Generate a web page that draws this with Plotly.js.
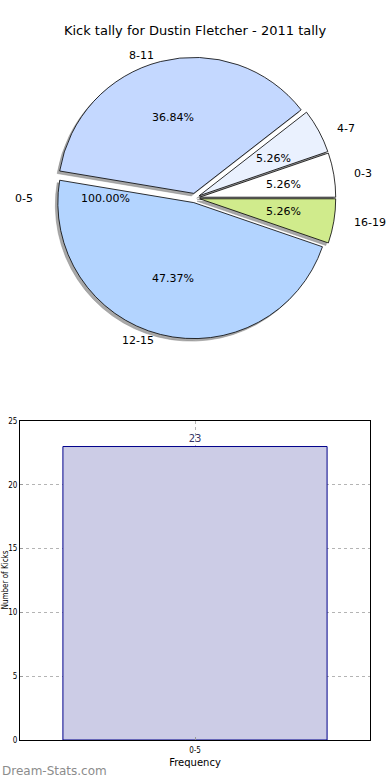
<!DOCTYPE html>
<html>
<head>
<meta charset="utf-8">
<script src="https://cdn.plot.ly/plotly-3.0.1.min.js"></script>
<style>html,body{margin:0;padding:0;background:#fff;overflow:hidden}#chart{width:390px;height:780px}</style>
</head>
<body>
<div id="chart"></div>
<script>
// ---- data ----
const chartTitle = "Kick tally for Dustin Fletcher - 2011 tally";
const pieLabels = ["0-3", "4-7", "8-11", "12-15", "16-19"];
const pieValues = [1, 1, 7, 9, 1];
const pieColors = ["#ffffff", "#eaf1fe", "#c4d8ff", "#b3d4ff", "#d0eb8c"];
const extraLabels = ["0-5"];
const extraValues = [23];
const barCategories = ["0-5"];
const barValues = [23];
const yTicks = [0, 5, 10, 15, 20, 25];
const xAxisTitle = "Frequency";
const yAxisTitle = "Number of Kicks";
const watermark = "Dream-Stats.com";

// ---- layout geometry ----
const W = 390, H = 780;
const cx = 195, cy = 198;     // pie centre (px)
const R = 136;                // drawn pie radius (px)
const RX = 140, RY = 129;     // text placement radii (px)
const pull = 0.035;
const half = R * (1 + pull);
const px = x => x / W;
const py = y => 1 - y / H;
const pieDomain = {x: [px(cx - half), px(cx + half)], y: [py(cy + half), py(cy - half)]};
const sh = 2.5;
const shadowDomain = {x: [px(cx - half - sh), px(cx + half - sh)], y: [py(cy + half + sh), py(cy - half + sh)]};
const pieTotal = pieValues.reduce((a, b) => a + b, 0);
// first slice starts at 3 o'clock, running counterclockwise
const pieRotation = 90 - 360 * pieValues[0] / pieTotal;

const shadow = {
  type: "pie", labels: pieLabels, values: pieValues, sort: false,
  direction: "counterclockwise", rotation: pieRotation, pull: pieValues.map(() => pull),
  marker: {colors: pieValues.map(() => "#a8a8a8"), line: {color: "#8a8a8a", width: 0.5}},
  textinfo: "none", hoverinfo: "skip", showlegend: false, domain: shadowDomain
};
const pie = {
  type: "pie", labels: pieLabels, values: pieValues, sort: false,
  direction: "counterclockwise", rotation: pieRotation, pull: pieValues.map(() => pull),
  marker: {colors: pieColors, line: {color: "#000000", width: 0.8}},
  textinfo: "none", showlegend: false, domain: pieDomain
};
const bar = {
  type: "bar", x: barCategories, y: barValues, width: 0.8,
  marker: {color: "#ccccE6", line: {color: "#00008b", width: 1}},
  text: barValues.map(String), textposition: "outside", cliponaxis: false,
  textfont: {family: "DejaVu Sans", size: 10, color: "#333366"},
  xaxis: "x", yaxis: "y", showlegend: false
};

// ---- pie text annotations (matplotlib style) ----
const annotations = [];
const fnt = {family: "DejaVu Sans", size: 11, color: "#000"};
const textPull = 0.04;
function addPieText(labels, values) {
  const total = values.reduce((a, b) => a + b, 0);
  let start = 0;
  labels.forEach((lab, i) => {
    const span = 360 * values[i] / total;
    const mid = (labels.length === 1 ? 180 : start + span / 2) * Math.PI / 180;
    const c = Math.cos(mid), s = Math.sin(mid);
    const lx = cx + (1.1 + textPull) * RX * c, ly = cy - (1.1 + textPull) * RY * s;
    annotations.push({x: px(lx), y: py(ly), xref: "paper", yref: "paper", text: lab, showarrow: false,
      xanchor: c > 0 ? "left" : "right", yanchor: "middle", font: fnt});
    const tx = cx + (0.6 + textPull) * RX * c, ty = cy - (0.6 + textPull) * RY * s;
    annotations.push({x: px(tx), y: py(ty), xref: "paper", yref: "paper",
      text: (100 * values[i] / total).toFixed(2) + "%", showarrow: false,
      xanchor: "center", yanchor: "middle", font: fnt});
    start += span;
  });
}
addPieText(pieLabels, pieValues);
addPieText(extraLabels, extraValues);

annotations.push({x: px(4.5), y: py(580), xref: "paper", yref: "paper", text: yAxisTitle, textangle: -90,
  showarrow: false, xanchor: "center", yanchor: "middle", font: {family: "DejaVu Sans Condensed", size: 8, color: "#000"}});
annotations.push({x: 0, y: py(771), xref: "paper", yref: "paper", text: watermark, showarrow: false,
  xanchor: "left", yanchor: "middle", font: {family: "DejaVu Sans", size: 12, color: "#8c8c8c"}});

const layout = {
  width: W, height: H,
  margin: {l: 0, r: 0, t: 0, b: 0},
  paper_bgcolor: "#fff", plot_bgcolor: "#fff",
  title: {text: chartTitle, x: 0.5, xanchor: "center", y: py(30), yanchor: "middle", yref: "container",
    font: {family: "DejaVu Sans", size: 13, color: "#000"}},
  xaxis: {domain: [px(20), px(370)], type: "category", range: [-0.53, 0.53],
    showline: true, mirror: true, linecolor: "#000", linewidth: 1,
    showgrid: true, gridcolor: "#b4b4b4", griddash: "dot", gridwidth: 1,
    ticks: "inside", ticklen: 3, tickcolor: "#999", ticklabelstandoff: 2,
    tickfont: {family: "DejaVu Sans Condensed", size: 8, color: "#000"},
    title: {text: xAxisTitle, standoff: 5, font: {family: "DejaVu Sans", size: 10, color: "#000"}},
    zeroline: false, fixedrange: true},
  yaxis: {domain: [py(740), py(421)], range: [0, 25], tickvals: yTicks,
    showline: true, mirror: true, linecolor: "#000", linewidth: 1,
    showgrid: true, gridcolor: "#b4b4b4", griddash: "dot", gridwidth: 1,
    ticks: "inside", ticklen: 3, tickcolor: "#999",
    tickfont: {family: "DejaVu Sans Condensed", size: 8, color: "#000"},
    zeroline: false, fixedrange: true},
  annotations: annotations,
  showlegend: false
};

Plotly.newPlot("chart", [shadow, pie, bar], layout, {staticPlot: true, displayModeBar: false});
</script>
</body>
</html>
